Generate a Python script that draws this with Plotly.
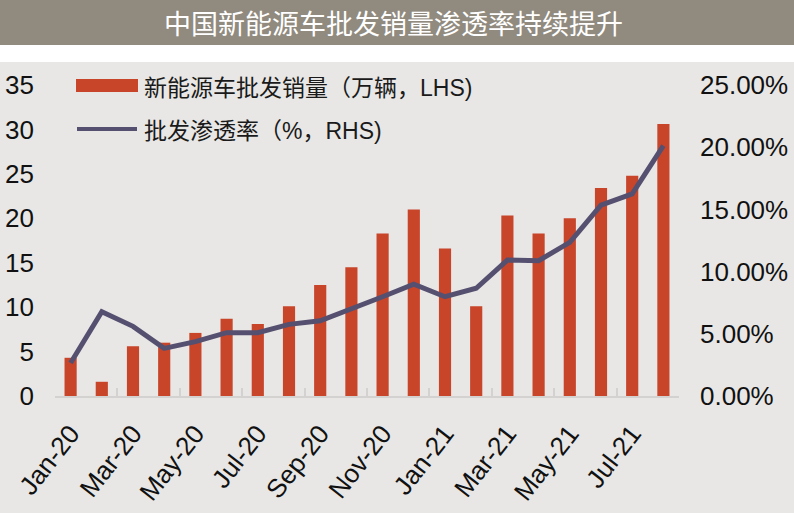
import plotly.graph_objects as go

months = ["Jan-20", "Feb-20", "Mar-20", "Apr-20", "May-20", "Jun-20", "Jul-20", "Aug-20",
          "Sep-20", "Oct-20", "Nov-20", "Dec-20", "Jan-21", "Feb-21", "Mar-21", "Apr-21",
          "May-21", "Jun-21", "Jul-21", "Aug-21"]
sales = [4.3, 1.6, 5.6, 6.0, 7.1, 8.7, 8.1, 10.1, 12.5, 14.5, 18.3, 21.0, 16.6, 10.1,
         20.3, 18.3, 20.0, 23.4, 24.8, 30.6]
penetration = [0.0265, 0.0678, 0.056, 0.0383, 0.0437, 0.0509, 0.0509, 0.0576, 0.0605,
               0.0697, 0.0798, 0.0898, 0.0798, 0.0866, 0.1093, 0.1088, 0.1235, 0.1535,
               0.1624, 0.2012]

title_text = "中国新能源车批发销量渗透率持续提升"
legend_bar = "新能源车批发销量（万辆，LHS)"
legend_line = "批发渗透率（%，RHS)"

W, H = 794, 513
L, R, T, B = 55, 679, 85, 396  # plot area in pixels
pw, ph = R - L, B - T


def px(x):
    return (x - L) / pw


def py(y):
    return (B - y) / ph


BAR_COLOR = "#c8452a"
LINE_COLOR = "#565070"
BG = "#e8e7e5"
BANNER = "#918a7e"
NUM_FONT = "Liberation Sans, Arial, sans-serif"
CJK_FONT = "Liberation Sans, Noto Sans CJK SC, sans-serif"

fig = go.Figure()
fig.add_trace(go.Bar(x=months, y=sales, marker=dict(color=BAR_COLOR, line=dict(width=0)),
                     name=legend_bar, yaxis="y"))
fig.add_trace(go.Scatter(x=months, y=penetration, mode="lines",
                         line=dict(color=LINE_COLOR, width=5),
                         name=legend_line, yaxis="y2"))

shapes = [
    # title banner
    dict(type="rect", xref="paper", yref="paper", x0=px(-2), x1=px(W + 2), y0=py(45), y1=py(-2),
         fillcolor=BANNER, line=dict(width=0), layer="below"),
    # white strip
    dict(type="rect", xref="paper", yref="paper", x0=px(-2), x1=px(W + 2), y0=py(62), y1=py(45),
         fillcolor="white", line=dict(width=0), layer="below"),
    # legend symbols
    dict(type="rect", xref="paper", yref="paper", x0=px(76), x1=px(138), y0=py(92), y1=py(79),
         fillcolor=BAR_COLOR, line=dict(width=0)),
    dict(type="line", xref="paper", yref="paper", x0=px(77), x1=px(137), y0=py(129), y1=py(129),
         line=dict(color=LINE_COLOR, width=4)),
]

annotations = [
    dict(text=title_text, xref="paper", yref="paper", x=px(393), y=py(22), showarrow=False,
         xanchor="center", yanchor="middle",
         font=dict(family="Noto Sans CJK SC, sans-serif", size=27, color="white")),
    dict(text=legend_bar, xref="paper", yref="paper", x=px(142), y=py(88), showarrow=False,
         xanchor="left", yanchor="middle",
         font=dict(family=CJK_FONT, size=23, color="#1a1a1a")),
    dict(text=legend_line, xref="paper", yref="paper", x=px(142), y=py(131), showarrow=False,
         xanchor="left", yanchor="middle",
         font=dict(family=CJK_FONT, size=23, color="#1a1a1a")),
]

fig.update_layout(
    width=W, height=H,
    margin=dict(l=L, r=W - R, t=T, b=H - B, pad=0, autoexpand=False),
    paper_bgcolor=BG, plot_bgcolor=BG,
    showlegend=False,
    bargap=0.61,
    shapes=shapes,
    annotations=annotations,
    xaxis=dict(
        type="category", categoryorder="array", categoryarray=months,
        tickmode="linear", dtick=2, tick0=0, automargin=False,
        tickson="boundaries", ticks="inside", ticklen=8, tickwidth=2, tickcolor="#d3d2d0",
        showline=True, linecolor="#d3d2d0", linewidth=2,
        showgrid=False, zeroline=False,
        tickangle=-52, ticklabelstandoff=10,
        tickfont=dict(family=NUM_FONT, size=26, color="#111111"),
    ),
    yaxis=dict(
        range=[0, 35], tickmode="linear", tick0=0, dtick=5, automargin=False,
        showgrid=False, zeroline=False, showline=False,
        ticks="", ticklabelstandoff=20,
        tickfont=dict(family=NUM_FONT, size=26, color="#111111"),
    ),
    yaxis2=dict(
        range=[0, 0.25], tickmode="linear", tick0=0, dtick=0.05, tickformat=".2%",
        overlaying="y", side="right", automargin=False,
        showgrid=False, zeroline=False, showline=False,
        ticks="", ticklabelstandoff=20,
        tickfont=dict(family=NUM_FONT, size=26, color="#111111"),
    ),
)

fig.write_html(
    "out.html",
    config={"displayModeBar": False},
    post_script="document.body.style.margin='0';document.body.style.padding='0';",
)
